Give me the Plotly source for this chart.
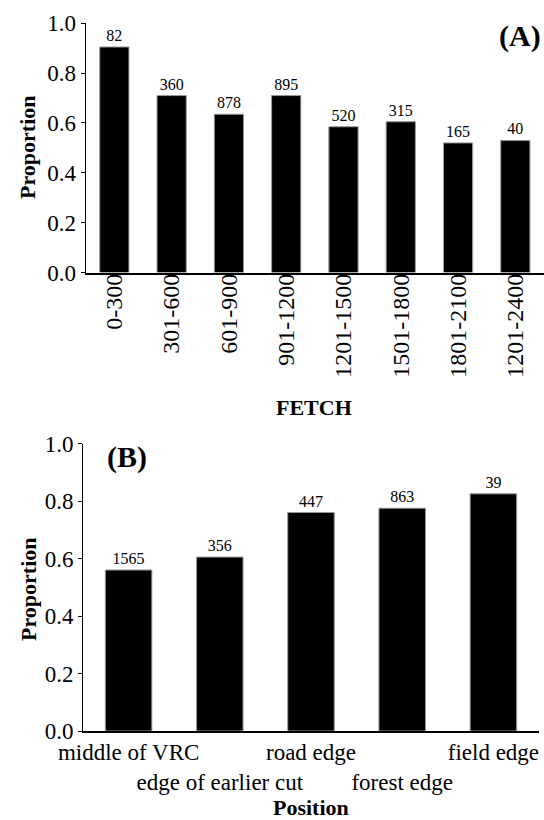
import plotly.graph_objects as go

# Panel A data
fetch_cats = ["0-300", "301-600", "601-900", "901-1200", "1201-1500", "1501-1800", "1801-2100", "1201-2400"]
fetch_prop = [0.905, 0.71, 0.635, 0.71, 0.585, 0.605, 0.52, 0.53]
fetch_n = [82, 360, 878, 895, 520, 315, 165, 40]

# Panel B data
pos_cats = ["middle of VRC", "edge of earlier cut", "road edge", "forest edge", "field edge"]
pos_prop = [0.56, 0.605, 0.76, 0.775, 0.825]
pos_n = [1565, 356, 447, 863, 39]

FONT = "Liberation Serif"
W, H = 544, 820

fig = go.Figure()

fig.add_trace(go.Bar(
    x=list(range(len(fetch_cats))), y=fetch_prop,
    text=[str(v) for v in fetch_n], textposition="outside",
    textfont=dict(family=FONT, size=16, color="black"),
    marker=dict(color="black", line=dict(color="#999999", width=1)),
    cliponaxis=False, xaxis="x", yaxis="y", showlegend=False,
))
fig.add_trace(go.Bar(
    x=list(range(len(pos_cats))), y=pos_prop,
    text=[str(v) for v in pos_n], textposition="outside",
    textfont=dict(family=FONT, size=16, color="black"),
    marker=dict(color="black", line=dict(color="#999999", width=1)),
    cliponaxis=False, xaxis="x2", yaxis="y2", showlegend=False,
))

pos_ticktext = [("<br>" + c) if i % 2 == 1 else c for i, c in enumerate(pos_cats)]

yax_common = dict(
    range=[0, 1.0], dtick=0.2, tick0=0, tickformat=".1f", automargin=False,
    showgrid=False, zeroline=False, showline=True, linecolor="black", linewidth=1,
    ticks="outside", ticklen=4, tickcolor="black",
    tickfont=dict(family=FONT, size=23, color="black"),
)

def ann(text, x, y, size=22, angle=0, xanchor="center"):
    return dict(text=text, textangle=angle, x=x / W, y=1 - y / H,
                xref="paper", yref="paper", showarrow=False,
                xanchor=xanchor, yanchor="middle",
                font=dict(family=FONT, size=size, color="black"))

fig.update_layout(
    template="none",
    width=W, height=H,
    margin=dict(l=0, r=0, t=0, b=0, pad=0),
    paper_bgcolor="white", plot_bgcolor="white",
    bargap=0.49,
    font=dict(family=FONT, color="black"),
    xaxis=dict(
        domain=[85.7 / W, 1.0], anchor="y", automargin=False,
        range=[-0.5, 7.5], tickmode="array",
        tickvals=list(range(len(fetch_cats))), ticktext=fetch_cats,
        tickangle=-90, ticks="", showgrid=False, zeroline=False,
        ticklabelstandoff=-10,
        showline=True, linecolor="black", linewidth=1.5,
        tickfont=dict(family=FONT, size=24, color="black"),
    ),
    yaxis=dict(domain=[1 - 272.5 / H, 1 - 23.3 / H], anchor="x", **yax_common),
    xaxis2=dict(
        domain=[83 / W, 539 / W], anchor="y2", automargin=False,
        range=[-0.5, 4.5], tickmode="array",
        tickvals=list(range(len(pos_cats))), ticktext=pos_ticktext,
        tickangle=0, ticks="", showgrid=False, zeroline=False,
        showline=True, linecolor="black", linewidth=1.5,
        tickfont=dict(family=FONT, size=23, color="black"),
    ),
    yaxis2=dict(domain=[1 - 731 / H, 1 - 443.5 / H], anchor="x2", **yax_common),
    annotations=[
        ann("<b>Proportion</b>", 28, 148, angle=-90),
        ann("<b>FETCH</b>", 314, 407),
        ann("<b>(A)</b>", 543, 36, size=30, xanchor="right"),
        ann("<b>Proportion</b>", 28, 590, angle=-90),
        ann("<b>Position</b>", 311, 807),
        ann("<b>(B)</b>", 105, 457, size=30, xanchor="left"),
    ],
)

fig.write_html(
    "out.html",
    config={"displayModeBar": False},
    post_script="document.body.style.margin='0';document.body.style.padding='0';",
)
